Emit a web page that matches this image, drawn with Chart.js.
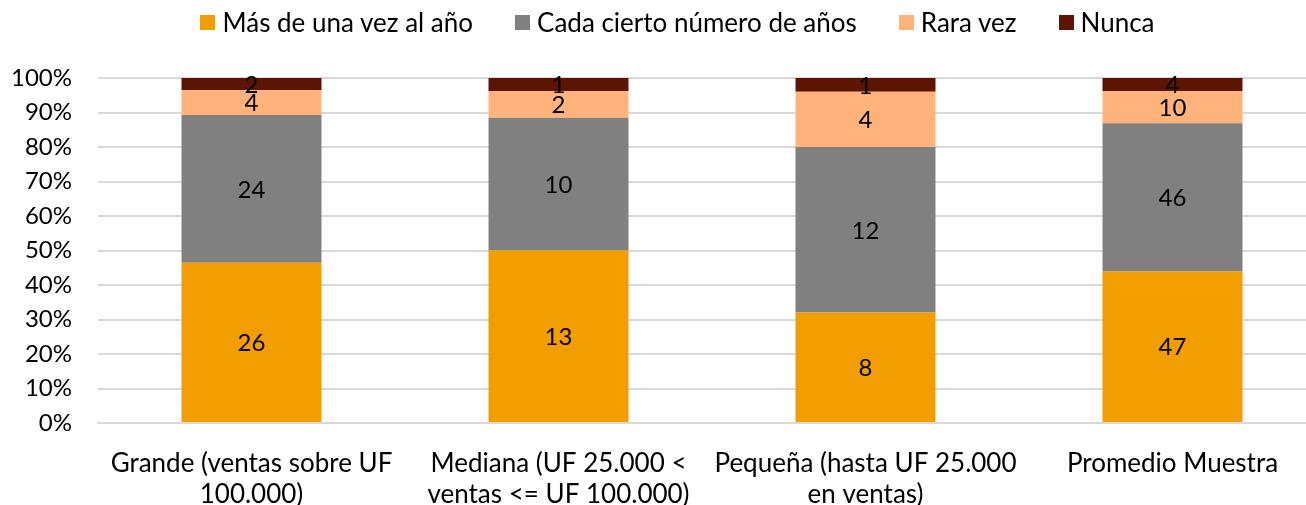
<!DOCTYPE html>
<html>
<head>
<meta charset="utf-8">
<script src="https://cdn.jsdelivr.net/npm/chart.js@4"></script>
<style>
  html, body { margin: 0; padding: 0; background: #fff; overflow: hidden; }
  #wrap { position: relative; width: 1326px; height: 505px; }
  #legend {
    position: absolute; top: 7px; left: 0; width: 1355px;
    display: flex; justify-content: center; align-items: center;
    font: 26px Lato, "Open Sans", sans-serif; line-height: 30px; color: #000;
  }
  #legend .item { display: flex; align-items: center; margin-right: 42px; }
  #legend .item:last-child { margin-right: 0; }
  #legend .box { width: 15px; height: 15px; margin-right: 7px; }
</style>
</head>
<body>
<div id="wrap">
  <div id="legend"></div>
  <canvas id="chart"></canvas>
</div>
<script>
// categories (company size)
const categories = [
    ["Grande (ventas sobre UF", "100.000)"],
    ["Mediana (UF 25.000 <", "ventas <= UF 100.000)"],
    ["Pequeña (hasta UF 25.000", "en ventas)"],
    ["Promedio Muestra"]
];

// counts per answer
const masDeUnaVez = [26, 13, 8, 47];
const cadaCiertoNumero = [24, 10, 12, 46];
const raraVez = [4, 2, 4, 10];
const nunca = [2, 1, 1, 4];

const seriesNames = ["Más de una vez al año", "Cada cierto número de años", "Rara vez", "Nunca"];
const seriesColors = ["#F29D00", "#808080", "#FFB27A", "#5C1500"];
const yTicks = [0, 10, 20, 30, 40, 50, 60, 70, 80, 90, 100];

const FONT = "Lato, 'Open Sans', sans-serif";

const allCounts = [masDeUnaVez, cadaCiertoNumero, raraVez, nunca];
const totals = categories.map((c, i) => allCounts.reduce((s, arr) => s + arr[i], 0));

const datasets = allCounts.map((arr, k) => ({
    label: seriesNames[k],
    data: arr.map((v, i) => v / totals[i] * 100),
    counts: arr,
    backgroundColor: seriesColors[k],
    borderWidth: 0,
    categoryPercentage: 1,
    barPercentage: 0.456
}));

// legend as html above the plot
let legendEl = document.getElementById("legend");
seriesNames.forEach((name, k) => {
    let item = document.createElement("div");
    item.className = "item";
    let box = document.createElement("span");
    box.className = "box";
    box.style.background = seriesColors[k];
    let txt = document.createElement("span");
    txt.textContent = name;
    item.appendChild(box);
    item.appendChild(txt);
    legendEl.appendChild(item);
});

// draw the counts in the middle of each segment
const countLabels = {
    id: "countLabels",
    afterDatasetsDraw(chart) {
        let ctx = chart.ctx;
        ctx.save();
        ctx.font = "24px " + FONT;
        ctx.fillStyle = "#000";
        ctx.textAlign = "center";
        ctx.textBaseline = "middle";
        chart.data.datasets.forEach((ds, k) => {
            chart.getDatasetMeta(k).data.forEach((el, i) => {
                ctx.fillText(String(ds.counts[i]), el.x, (el.y + el.base) / 2 + 1);
            });
        });
        ctx.restore();
    }
};

new Chart(document.getElementById("chart"), {
    type: "bar",
    data: { labels: categories, datasets: datasets },
    plugins: [countLabels],
    options: {
        responsive: true,
        maintainAspectRatio: false,
        animation: false,
        layout: { padding: { top: 78, left: 0, right: 0, bottom: 0 } },
        plugins: {
            legend: { display: false },
            tooltip: { enabled: false }
        },
        scales: {
            x: {
                stacked: true,
                grid: { display: false, drawTicks: false },
                border: { display: true, color: "#d9d9d9", width: 2 },
                ticks: {
                    font: { family: FONT, size: 26 },
                    color: "#000",
                    maxRotation: 0,
                    autoSkip: false,
                    padding: 25
                },
                afterFit(scale) { scale.height = 82; }
            },
            y: {
                stacked: true,
                min: 0,
                max: 100,
                afterBuildTicks(scale) { scale.ticks = yTicks.map(v => ({ value: v })); },
                grid: { color: "#d9d9d9", lineWidth: 2, drawTicks: false },
                border: { display: false },
                ticks: {
                    font: { family: FONT, size: 24 },
                    color: "#000",
                    padding: 26,
                    callback: v => v + "%"
                },
                afterFit(scale) { scale.width = 98; }
            }
        }
    }
});
</script>
</body>
</html>
